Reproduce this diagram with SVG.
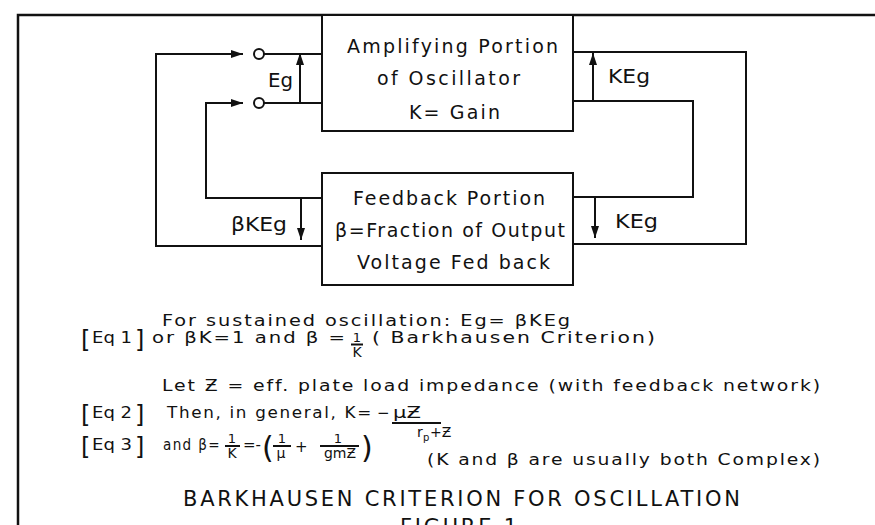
<svg xmlns="http://www.w3.org/2000/svg" width="875" height="525" viewBox="0 0 875 525">
<style>
.ln{stroke:#111;stroke-width:2;fill:none}
.fr{stroke:#111;stroke-width:2.5;fill:none}
.bx{stroke:#111;stroke-width:2;fill:#fff}
.t{font-family:"DejaVu Sans","Liberation Sans",sans-serif;fill:#111}
.b{font-size:19px}
.s{font-size:15px;letter-spacing:1.5px}
.n{font-size:15px}
.br{font-size:24px}
.fs{font-size:14px}
.big{font-size:30px}
.ti{font-size:21px}
</style>
<defs>
<marker id="ah" markerUnits="userSpaceOnUse" markerWidth="12" markerHeight="8" refX="12" refY="4" orient="auto">
<path d="M0,0 L12,4 L0,8 z" fill="#111"/>
</marker>
</defs>
<rect width="875" height="525" fill="#fff"/>
<path class="fr" d="M875,15 H18 V525"/>

<g id="connectors">
<path class="ln" d="M322,246 H156 V54 H243" marker-end="url(#ah)"/>
<path class="ln" d="M322,198 H206 V103 H243" marker-end="url(#ah)"/>
<path class="ln" d="M264,54 H322 M264,103 H322"/>
<path class="ln" d="M300,103 V53" marker-end="url(#ah)"/>
<path class="ln" d="M301,198 V240" marker-end="url(#ah)"/>
<path class="ln" d="M573,52 H746 V244 H573"/>
<path class="ln" d="M573,101 H693 V197 H573"/>
<path class="ln" d="M593,101 V53" marker-end="url(#ah)"/>
<path class="ln" d="M595,197 V238" marker-end="url(#ah)"/>
</g>

<g id="term1"><circle class="bx" cx="259" cy="54" r="5"/></g>
<g id="term2"><circle class="bx" cx="259" cy="103" r="5"/></g>

<g id="amplifier">
<rect class="bx" x="322" y="15" width="251" height="116"/>
<text class="t b" x="347" y="53" textLength="211" lengthAdjust="spacing">Amplifying Portion</text>
<text class="t b" x="377" y="85" textLength="143" lengthAdjust="spacing">of Oscillator</text>
<text class="t b" x="409" y="119" textLength="91" lengthAdjust="spacing">K= Gain</text>
</g>

<g id="feedback">
<rect class="bx" x="322" y="173" width="251" height="112"/>
<text class="t b" x="353" y="205" textLength="192" lengthAdjust="spacing">Feedback Portion</text>
<text class="t b" x="335" y="237" textLength="230" lengthAdjust="spacing">β=Fraction of Output</text>
<text class="t b" x="357" y="269" textLength="193" lengthAdjust="spacing">Voltage Fed back</text>
</g>

<g id="labels">
<text class="t b" x="268" y="87" textLength="25" lengthAdjust="spacingAndGlyphs">Eg</text>
<text class="t b" x="231" y="231" textLength="56" lengthAdjust="spacingAndGlyphs">βKEg</text>
<text class="t b" x="608" y="83" textLength="42" lengthAdjust="spacingAndGlyphs">KEg</text>
<text class="t b" x="615" y="228" textLength="43" lengthAdjust="spacingAndGlyphs">KEg</text>
</g>

<g id="equations">
<text class="t s" x="162" y="326" textLength="410" lengthAdjust="spacingAndGlyphs">For sustained oscillation: Eg= βKEg</text>

<text class="t br" x="81" y="348">[</text>
<text class="t n" x="92" y="343" textLength="40" lengthAdjust="spacingAndGlyphs">Eq 1</text>
<text class="t br" x="135" y="348">]</text>
<text class="t s" x="152" y="343" textLength="195" lengthAdjust="spacingAndGlyphs">or βK=1 and  β =</text>
<text class="t" style="font-size:13px" x="357" y="342" text-anchor="middle">1</text>
<path class="ln" stroke-width="1.5" d="M351,344.5 H363"/>
<text class="t fs" x="357" y="357" text-anchor="middle">K</text>
<text class="t s" x="372" y="343" textLength="285" lengthAdjust="spacingAndGlyphs">( Barkhausen Criterion)</text>

<text class="t s" x="162" y="391" textLength="660" lengthAdjust="spacingAndGlyphs">Let Ƶ = eff. plate load impedance (with feedback network)</text>

<text class="t br" x="81" y="423">[</text>
<text class="t n" x="92" y="418" textLength="40" lengthAdjust="spacingAndGlyphs">Eq 2</text>
<text class="t br" x="135" y="423">]</text>
<text class="t s" x="167" y="418" textLength="206" lengthAdjust="spacingAndGlyphs">Then, in general, K=</text>
<text class="t n" x="377" y="418">−</text>
<text class="t n" x="393" y="418" textLength="28" lengthAdjust="spacingAndGlyphs">μƵ</text>
<path class="ln" stroke-width="1.5" d="M392,423 H441"/>
<text class="t fs" x="417" y="437">r</text>
<text class="t" style="font-size:10px" x="423" y="441">p</text>
<text class="t fs" x="430" y="437">+Ƶ</text>

<text class="t br" x="81" y="455">[</text>
<text class="t n" x="92" y="450" textLength="40" lengthAdjust="spacingAndGlyphs">Eq 3</text>
<text class="t br" x="135" y="455">]</text>
<text class="t s" x="163" y="450" textLength="58" lengthAdjust="spacingAndGlyphs">and β=</text>
<text class="t" style="font-size:13px" x="232" y="443" text-anchor="middle">1</text>
<path class="ln" stroke-width="1.5" d="M225,446 H240"/>
<text class="t fs" x="232" y="458" text-anchor="middle">K</text>
<text class="t n" x="243" y="450">=-</text>
<text class="t big" x="262" y="458">(</text>
<text class="t" style="font-size:13px" x="282" y="443" text-anchor="middle">1</text>
<path class="ln" stroke-width="1.5" d="M273,446 H291"/>
<text class="t fs" x="281" y="458" text-anchor="middle">μ</text>
<text class="t n" x="295" y="452">+</text>
<text class="t" style="font-size:13px" x="338" y="443" text-anchor="middle">1</text>
<path class="ln" stroke-width="1.5" d="M320,446 H359"/>
<text class="t fs" x="340" y="458" text-anchor="middle">gmƵ</text>
<text class="t big" x="361" y="458">)</text>
<text class="t s" x="427" y="465" textLength="395" lengthAdjust="spacingAndGlyphs">(K and β are usually both Complex)</text>

<text class="t ti" x="183" y="506" textLength="557" lengthAdjust="spacing">BARKHAUSEN CRITERION FOR OSCILLATION</text>
<text class="t ti" x="400" y="534" textLength="117" lengthAdjust="spacing">FIGURE 1</text>
</g>
</svg>
